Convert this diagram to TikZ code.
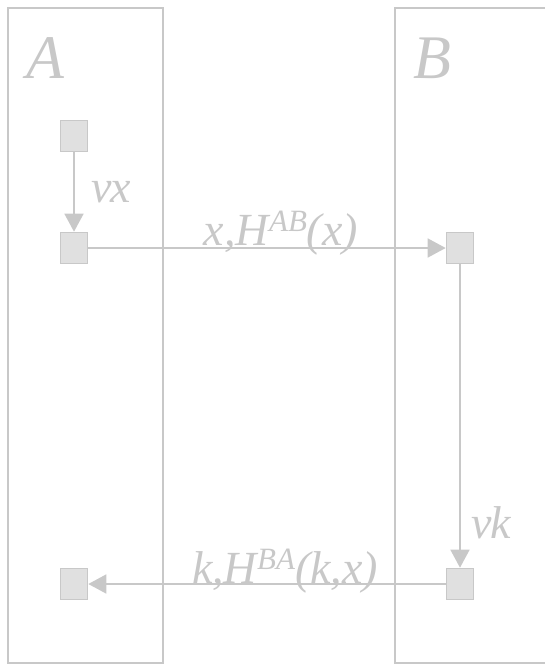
\documentclass[tikz,border=0pt]{standalone}
\usepackage{fontspec}
\setmainfont{Liberation Serif}
\usetikzlibrary{arrows.meta}
\definecolor{lc}{HTML}{C8C8C8}
\definecolor{fc}{HTML}{E0E0E0}
\newcommand\mysup[1]{\raisebox{14pt}{\fontsize{31}{31}\selectfont #1}}
\tikzset{
  sq/.style={draw=lc, fill=fc, line width=1.6pt, minimum width=27pt, minimum height=31pt, inner sep=0pt},
  conn/.style={draw=lc, line width=1.6pt, -{Triangle[width=19pt,length=18pt]}},
  frame/.style={draw=lc, line width=1.6pt},
  big/.style={text=lc, inner sep=0pt, anchor=base west, font=\fontsize{62}{62}\selectfont\itshape},
  lab/.style={text=lc, inner sep=0pt, font=\fontsize{46}{46}\selectfont\itshape},
}
\begin{document}
\begin{tikzpicture}[x=1pt,y=-1pt]
\useasboundingbox (0,0) rectangle (545,665);
\draw[frame] (8,8) rectangle (163,663);
\draw[frame] (395,8) rectangle (570,663);
\node[big] (A) at (26,78) {A};
\node[big] (B) at (413,78) {B};
\node[sq] (a1) at (74,136) {};
\node[sq] (a2) at (74,248) {};
\node[sq] (b1) at (460,248) {};
\node[sq] (b2) at (460,584) {};
\node[sq] (a3) at (74,584) {};
\draw[conn] (a1) -- (a2);
\draw[conn] (a2) -- (b1);
\draw[conn] (b1) -- (b2);
\draw[conn] (b2) -- (a3);
\node[lab, anchor=base west] (nx) at (91,202) {ν\kern-1ptx};
\node[lab, anchor=base west] (nk) at (471,538) {ν\kern-1ptk};
\node[lab, anchor=base] (m1) at (281,245) {x,H\mysup{AB}(x)};
\node[lab, anchor=base] (m2) at (285,583) {k,H\mysup{BA}(k,x)};
\end{tikzpicture}
\end{document}
